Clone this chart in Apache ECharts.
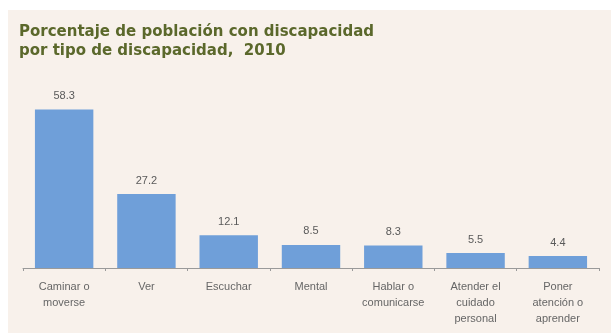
<!DOCTYPE html>
<html>
<head>
<meta charset="utf-8">
<script src="https://cdn.jsdelivr.net/npm/echarts@6/dist/echarts.min.js"></script>
<style>
html,body{margin:0;padding:0;background:#ffffff;}
#c{width:611px;height:333px;}
</style>
</head>
<body>
<div id="c"></div>
<script>
var titleLines = ['Porcentaje de población con discapacidad', 'por tipo de discapacidad,  2010'];
var categories = ['Caminar o\nmoverse', 'Ver', 'Escuchar', 'Mental', 'Hablar o\ncomunicarse', 'Atender el\ncuidado\npersonal', 'Poner\natención o\naprender'];
var values = [58.3, 27.2, 12.1, 8.5, 8.3, 5.5, 4.4];

var chart = echarts.init(document.getElementById('c'), null, {renderer: 'canvas'});
chart.setOption({
  animation: false,
  backgroundColor: '#ffffff',
  graphic: [
    {type: 'rect', left: 8, top: 10, z: -10, shape: {width: 603, height: 323}, style: {fill: '#f8f1eb'}},
    {type: 'text', left: 19, top: 23, style: {text: titleLines.join('\n'), font: 'bold 15px "DejaVu Sans", Verdana, sans-serif', fill: '#5b682b', lineHeight: 19}}
  ],
  grid: {left: 23, right: 12, top: 105, bottom: 65, containLabel: false},
  xAxis: {
    type: 'category',
    data: categories,
    axisLine: {lineStyle: {color: '#9a9a9a', width: 1}},
    axisTick: {show: true, length: 3, lineStyle: {color: '#9a9a9a'}},
    axisLabel: {color: '#666666', fontSize: 11, fontFamily: '"Liberation Sans", Arial, sans-serif', lineHeight: 16, margin: 11, interval: 0}
  },
  yAxis: {
    type: 'value', min: 0, max: 60,
    show: false,
    splitLine: {show: false}
  },
  series: [{
    type: 'bar',
    data: values,
    barCategoryGap: '29%',
    itemStyle: {color: '#6f9fd9'},
    label: {show: true, position: 'top', distance: 8, color: '#5a5a5a', fontSize: 11, fontFamily: '"Liberation Sans", Arial, sans-serif', formatter: function(p){ return p.value.toFixed(1); }}
  }]
});
</script>
</body>
</html>
